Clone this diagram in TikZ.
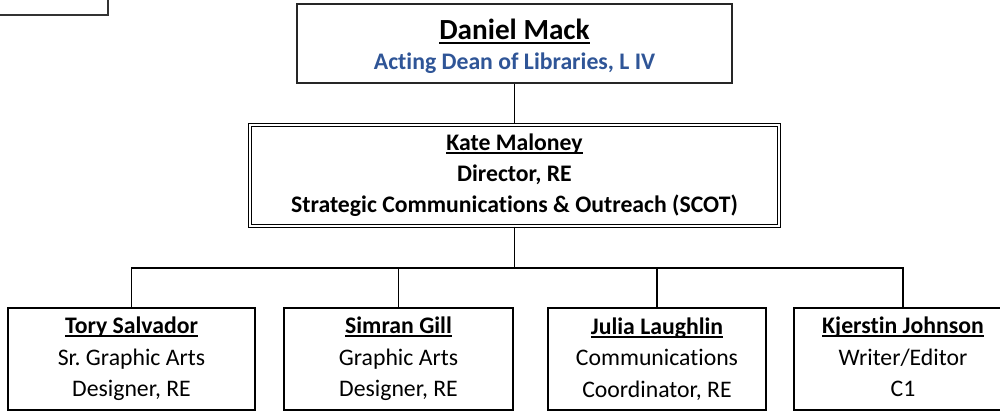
\documentclass[tikz,border=0pt]{standalone}
\usepackage{fontspec}
\setmainfont{Carlito}[Ligatures={NoCommon,NoContextual}]
\definecolor{deanblue}{HTML}{2F5597}
\newcommand{\myul}[1]{\leavevmode\setbox0\hbox{#1}\rlap{\rule[-0.14em]{\wd0}{0.075em}}\box0}
\tikzset{
  box/.style={draw=black, line width=1.1pt, fill=white, inner sep=0pt, align=center,
    font=\fontsize{17.8}{23.6}\selectfont},
  topbox/.style={box, draw=black!85, font=\fontsize{17.8}{22.5}\selectfont},
  dblbox/.style={draw=black, line width=0.8pt, double=white, double distance=1.6pt, inner sep=0pt,
    align=center, font=\fontsize{17.8}{23.25}\selectfont\bfseries},
  conn/.style={draw=black, line width=1.2pt}
}
\begin{document}
\begin{tikzpicture}[x=0.75pt,y=-0.75pt]
\useasboundingbox (0,0) rectangle (1000,411);
\clip (0,0) rectangle (1000,411);
% partial box at top-left
\draw[line width=1.6pt, draw=black!80] (-20,-20) rectangle (108,15);
% boxes
\node[topbox, minimum width=326.25pt, minimum height=59.25pt] (dean) at (514.5,43.5)
  {\rule{0pt}{20pt}{\fontsize{21.9}{22.5}\selectfont\bfseries\myul{Daniel Mack}}\\
   {\bfseries\color{deanblue}Acting Dean of Libraries, L IV}};
\node[dblbox, minimum width=397pt, minimum height=76pt] (dir) at (514.5,175.5)
  {\myul{Kate Maloney}\\ Director, RE\\ Strategic Communications \& Outreach (SCOT)};
\node[box, minimum width=185.25pt, minimum height=76.5pt] (b1) at (131.5,359)
  {{\bfseries\myul{Tory Salvador}}\\ Sr.\ Graphic Arts\\ Designer, RE};
\node[box, minimum width=171.75pt, minimum height=76.5pt] (b2) at (398.5,359)
  {{\bfseries\myul{Simran Gill}}\\ Graphic Arts\\ Designer, RE};
\node[box, minimum width=163.5pt, minimum height=76.5pt] (b3) at (657,359)
  {{\bfseries\myul{Julia Laughlin}}\\ Communications\\ Coordinator, RE};
\node[box, minimum width=163.5pt, minimum height=76.5pt] (b4) at (903,359)
  {{\bfseries\myul{Kjerstin Johnson}}\\ Writer/Editor\\ C1\vphantom{g}};
% connectors
\coordinate (bus) at (514.5,268);
\draw[conn] (dean.south) -- (dir.north);
\draw[conn] (dir.south) -- (bus);
\draw[conn] (b1.north) |- (bus) -| (b4.north);
\draw[conn] (b2.north) -- (b2.north |- bus);
\draw[conn] (b3.north) -- (b3.north |- bus);
\end{tikzpicture}
\end{document}
